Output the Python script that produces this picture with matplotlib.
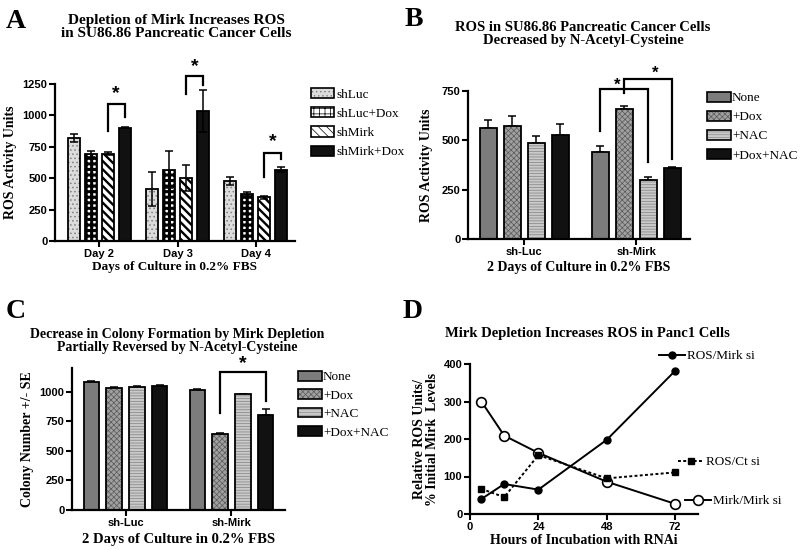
import matplotlib
matplotlib.use('Agg')
import matplotlib.pyplot as plt
import matplotlib.patches as mpatches
from matplotlib.legend_handler import HandlerTuple
import numpy as np

plt.rcParams['font.family'] = ['Liberation Sans', 'DejaVu Sans']
plt.rcParams['font.weight'] = 'bold'
plt.rcParams['hatch.linewidth'] = 1.0

SERIF = 'Liberation Serif'

# ---- panel A: ROS in SU86.86 over days
a_days = ['Day 2', 'Day 3', 'Day 4']
a_labels = ['shLuc', 'shLuc+Dox', 'shMirk', 'shMirk+Dox']
a_values = [[822, 415, 480], [692, 568, 378], [695, 500, 347], [903, 1036, 568]]
a_errors = [[33, 135, 33], [25, 145, 10], [12, 103, 15], [6, 170, 20]]

# ---- panel B: ROS with NAC
b_groups = ['sh-Luc', 'sh-Mirk']
b_labels = ['None', '+Dox', '+NAC', '+Dox+NAC']
b_values = [[561, 439], [573, 657], [486, 299], [529, 358]]
b_errors = [[42, 31], [50, 17], [36, 13], [55, 5]]

# ---- panel C: colony formation
c_groups = ['sh-Luc', 'sh-Mirk']
c_labels = ['None', '+Dox', '+NAC', '+Dox+NAC']
c_values = [[1082, 1012], [1031, 640], [1037, 977], [1048, 805]]
c_errors = [[6, 8], [5, 10], [10, 4], [5, 45]]

# ---- panel D: time course in Panc1
d_hours = [4, 12, 24, 48, 72]
d_ros_mirk = [40, 80, 65, 198, 382]
d_ros_ct = [67, 45, 157, 95, 111]
d_mirk_mirk = [300, 209, 163, 86, 27]

# bar styles: (face, hatch, hatch colour, hatch width)
a_styles = [('#dcdcdc', '....', '#808080', 0.6),
            ('white', '+++', 'black', 2.2),
            ('white', '\\\\\\\\', 'black', 1.7),
            ('#111111', '', '#111111', 0.5)]
bc_styles = [('#7c7c7c', '', '#7c7c7c', 0.5),
             ('#a0a0a0', 'xxxxxx', '#5a5a5a', 0.5),
             ('#cacaca', '------', '#8c8c8c', 0.6),
             ('#111111', '', '#111111', 0.5)]

LAB = {'family': SERIF, 'fontweight': 'bold'}


def set_hlw(p, lw):
    if hasattr(p, 'set_hatch_linewidth'):
        p.set_hatch_linewidth(lw)


def styled_bar(ax, x, h, w, style):
    face, hatch, hc, hlw = style
    plt.rcParams['hatch.linewidth'] = hlw
    bars = ax.bar(x, h, w, color=face, hatch=hatch, edgecolor=hc, linewidth=0, zorder=2)
    for p in bars:
        set_hlw(p, hlw)
    ax.bar(x, h, w, fill=False, edgecolor='black', linewidth=1.3, zorder=3)


def legend_handle(style):
    face, hatch, hc, hlw = style
    p1 = mpatches.Patch(facecolor=face, hatch=hatch, edgecolor=hc, linewidth=0)
    set_hlw(p1, hlw)
    p2 = mpatches.Patch(fill=False, edgecolor='black', linewidth=1.2)
    return (p1, p2)


def style_axes(ax):
    for s in ['top', 'right']:
        ax.spines[s].set_visible(False)
    for s in ['left', 'bottom']:
        ax.spines[s].set_linewidth(1.6)
    ax.tick_params(axis='both', direction='out', length=4, width=1.5, labelsize=8, pad=1.5)


def bracket(ax, x1, x2, top, b1, b2, sx, sy, size=14):
    ax.plot([x1, x1, x2, x2], [b1, top, top, b2], color='black', lw=1.6,
            clip_on=False, zorder=5, solid_joinstyle='miter')
    ax.text(sx, sy, '*', ha='center', va='center', fontsize=size, clip_on=False)


fig = plt.figure(figsize=(8, 5.5), dpi=100)


def fx(px):
    return px / 800


def fy(py):
    return 1 - py / 550


# ================= A =================
axA = fig.add_axes([fx(55), fy(241), fx(240), (241 - 84) / 550])
step, width = 0.218, 0.154
gx = np.arange(len(a_days))
for i in range(4):
    xs = gx + (i - 1.5) * step
    styled_bar(axA, xs, a_values[i], width, a_styles[i])
    axA.errorbar(xs, a_values[i], yerr=a_errors[i], fmt='none', ecolor='black',
                 elinewidth=1.1, capsize=3, capthick=1.1, zorder=4)
style_axes(axA)
axA.set_xlim(-0.564, 2.5)
axA.set_ylim(0, 1250)
axA.set_yticks([0, 250, 500, 750, 1000, 1250])
axA.set_xticks(gx)
axA.set_xticklabels(a_days)
axA.set_ylabel('ROS Activity Units', fontsize=10, labelpad=4, **LAB)
axA.set_xlabel('Days of Culture in 0.2% FBS', fontsize=9.5, labelpad=2, **LAB)
# significance brackets (shMirk vs shMirk+Dox)
for g, (top, b1, b2, sy) in enumerate([(1089, 877, 986, 1175), (1313, 1168, 1242, 1387),
                                         (700, 510, 655, 793)]):
    x1 = g + 0.5 * step
    x2 = g + 1.5 * step
    bracket(axA, x1, x2, top, b1, b2, (x1 + x2) / 2, sy)
fig.legend(handles=[legend_handle(s) for s in a_styles], labels=a_labels,
           handler_map={tuple: HandlerTuple(ndivide=1)},
           loc='upper left', bbox_to_anchor=(fx(311), fy(88)), frameon=False,
           prop={'family': SERIF, 'weight': 'normal', 'size': 9.5},
           handlelength=1.75, handleheight=0.8, handletextpad=0.15, labelspacing=0.5,
           borderpad=0, borderaxespad=0)

# ================= B =================
axB = fig.add_axes([fx(468), fy(239), fx(222), (239 - 91) / 550])
step, width = 0.214, 0.152
gx = np.arange(len(b_groups))
for i in range(4):
    xs = gx + (i - 1.5) * step
    styled_bar(axB, xs, b_values[i], width, bc_styles[i])
    axB.errorbar(xs, b_values[i], yerr=[np.zeros(2), b_errors[i]], fmt='none',
                 ecolor='black', elinewidth=1.1, capsize=3, capthick=1.1, zorder=1)
style_axes(axB)
axB.set_xlim(-0.50, 1.48)
axB.set_ylim(0, 750)
axB.set_yticks([0, 250, 500, 750])
axB.set_xticks(gx)
axB.set_xticklabels(b_groups)
axB.set_ylabel('ROS Activity Units', fontsize=10, labelpad=6, **LAB)
axB.set_xlabel('2 Days of Culture in 0.2% FBS', fontsize=10, labelpad=3, **LAB)
xN, xD, xA, xDA = [1 + (i - 1.5) * step for i in range(4)]
bracket(axB, xN, xA, 758, 549, 389, xN + 0.15, 780, size=12)
bracket(axB, xD, xDA, 809, 738, 405, (xD + xDA) / 2 + 0.06, 840, size=12)
fig.legend(handles=[legend_handle(s) for s in bc_styles], labels=b_labels,
           handler_map={tuple: HandlerTuple(ndivide=1)},
           loc='upper left', bbox_to_anchor=(fx(707), fy(92)), frameon=False,
           prop={'family': SERIF, 'weight': 'normal', 'size': 9.5},
           handlelength=1.8, handleheight=0.75, handletextpad=0.1, labelspacing=0.5,
           borderpad=0, borderaxespad=0)

# ================= C =================
axC = fig.add_axes([fx(72), fy(510), fx(213), (510 - 368) / 550])
gx = np.arange(len(c_groups))
for i in range(4):
    xs = gx + (i - 1.5) * step
    styled_bar(axC, xs, c_values[i], 0.15, bc_styles[i])
    axC.errorbar(xs, c_values[i], yerr=[np.zeros(2), c_errors[i]], fmt='none',
                 ecolor='black', elinewidth=1.1, capsize=3, capthick=1.1, zorder=1)
style_axes(axC)
axC.set_xlim(-0.505, 1.505)
axC.set_ylim(0, 1200)
axC.set_yticks([0, 250, 500, 750, 1000])
axC.set_xticks(gx)
axC.set_xticklabels(c_groups)
axC.set_ylabel('Colony Number +/- SE', fontsize=10, labelpad=4, **LAB)
axC.set_xlabel('2 Days of Culture in 0.2% FBS', fontsize=10.5, labelpad=4, **LAB)
xD, xDA = 1 + (-0.5) * step, 1 + 1.5 * step
bracket(axC, xD, xDA, 1170, 822, 921, (xD + xDA) / 2, 1235)
fig.legend(handles=[legend_handle(s) for s in bc_styles], labels=c_labels,
           handler_map={tuple: HandlerTuple(ndivide=1)},
           loc='upper left', bbox_to_anchor=(fx(298), fy(371)), frameon=False,
           prop={'family': SERIF, 'weight': 'normal', 'size': 9.5},
           handlelength=1.8, handleheight=0.75, handletextpad=0.1, labelspacing=0.45,
           borderpad=0, borderaxespad=0)

# ================= D =================
axD = fig.add_axes([fx(470), fy(514), fx(228), (514 - 364) / 550])
l1, = axD.plot(d_hours, d_ros_mirk, '-o', color='black', lw=1.4, ms=5, clip_on=False, zorder=4)
l2, = axD.plot(d_hours, d_ros_ct, linestyle=(0, (1.5, 1.2)), marker='s', color='black',
               lw=1.4, ms=5, clip_on=False, zorder=4)
l3, = axD.plot(d_hours, d_mirk_mirk, '-o', color='black', lw=1.4, ms=7,
               markerfacecolor='white', markeredgewidth=1.2, clip_on=False, zorder=3)
style_axes(axD)
axD.set_xlim(0, 80)
axD.set_ylim(0, 400)
axD.set_xticks([0, 24, 48, 72])
axD.set_yticks([0, 100, 200, 300, 400])
axD.set_ylabel('Relative ROS Units/\n% Initial Mirk  Levels', fontsize=10,
               labelpad=3, linespacing=1.0, **LAB)
axD.set_xlabel('Hours of Incubation with RNAi', fontsize=10, labelpad=2, **LAB)
for line, lab, (px, py) in [(l1, 'ROS/Mirk si', (659, 356)), (l2, 'ROS/Ct si', (678, 462)),
                            (l3, 'Mirk/Mirk si', (685, 501))]:
    fig.legend(handles=[line], labels=[lab], loc='center left',
               bbox_to_anchor=(fx(px), fy(py)), frameon=False, numpoints=1,
               prop={'family': SERIF, 'weight': 'normal', 'size': 9.5},
               handlelength=2.0, handletextpad=0.15, borderpad=0, borderaxespad=0)

# ---- titles and panel letters
fig.text(fx(176), fy(27), 'Depletion of Mirk Increases ROS\nin SU86.86 Pancreatic Cancer Cells',
         ha='center', va='center', family=SERIF, fontsize=11, linespacing=0.95)
fig.text(fx(583), fy(34), 'ROS in SU86.86 Pancreatic Cancer Cells\nDecreased by N-Acetyl-Cysteine',
         ha='center', va='center', family=SERIF, fontsize=10.5, linespacing=0.95)
fig.text(fx(177), fy(341), 'Decrease in Colony Formation by Mirk Depletion\nPartially Reversed by N-Acetyl-Cysteine',
         ha='center', va='center', family=SERIF, fontsize=10, linespacing=0.95)
fig.text(fx(587), fy(333), 'Mirk Depletion Increases ROS in Panc1 Cells',
         ha='center', va='center', family=SERIF, fontsize=10.5)
for letter, (px, py) in [('A', (16, 22)), ('B', (414, 20)), ('C', (16, 311)), ('D', (413, 312))]:
    fig.text(fx(px), fy(py), letter, ha='center', va='center', family=SERIF,
             fontsize=20, fontweight='bold')

fig.savefig('out.png', dpi=100)
